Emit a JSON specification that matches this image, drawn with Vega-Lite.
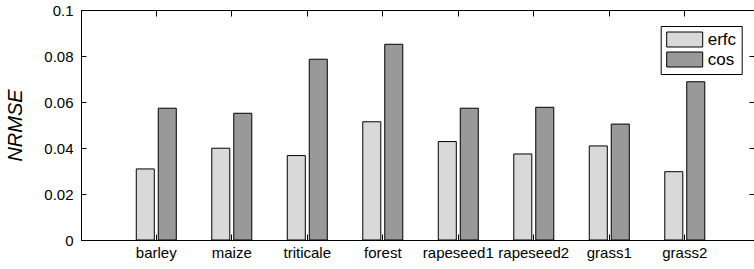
{
  "$schema": "https://vega.github.io/schema/vega-lite/v6.json",
  "width": 673,
  "height": 230,
  "autosize": {"type": "none"},
  "padding": {"left": 81, "top": 10, "right": 0, "bottom": 29},
  "background": "white",
  "config": {
    "font": "Liberation Sans",
    "view": {"stroke": "black", "strokeWidth": 1},
    "axis": {"grid": false, "domainColor": "black", "domainWidth": 1, "tickColor": "black", "tickWidth": 1, "labelColor": "black", "titleColor": "black", "labelFontSize": 15, "labelFont": "Liberation Sans"}
  },
  "data": {
    "values": [
      {"crop": "barley", "method": "erfc", "value": 0.0309},
      {"crop": "barley", "method": "cos", "value": 0.0573},
      {"crop": "maize", "method": "erfc", "value": 0.0399},
      {"crop": "maize", "method": "cos", "value": 0.0551},
      {"crop": "triticale", "method": "erfc", "value": 0.0367},
      {"crop": "triticale", "method": "cos", "value": 0.0786},
      {"crop": "forest", "method": "erfc", "value": 0.0514},
      {"crop": "forest", "method": "cos", "value": 0.0851},
      {"crop": "rapeseed1", "method": "erfc", "value": 0.0428},
      {"crop": "rapeseed1", "method": "cos", "value": 0.0573},
      {"crop": "rapeseed2", "method": "erfc", "value": 0.0374},
      {"crop": "rapeseed2", "method": "cos", "value": 0.0577},
      {"crop": "grass1", "method": "erfc", "value": 0.0409},
      {"crop": "grass1", "method": "cos", "value": 0.0504},
      {"crop": "grass2", "method": "erfc", "value": 0.0297},
      {"crop": "grass2", "method": "cos", "value": 0.0688}
    ]
  },
  "layer": [
    {
      "mark": {"type": "bar", "stroke": "black", "strokeWidth": 1},
      "encoding": {
        "x": {
          "field": "crop", "type": "nominal",
          "sort": ["barley", "maize", "triticale", "forest", "rapeseed1", "rapeseed2", "grass1", "grass2"],
          "scale": {"paddingInner": 0.47, "paddingOuter": 0.692, "align": 0.529},
          "axis": {"orient": "bottom", "title": null, "labelAngle": 0, "tickSize": -6, "labelPadding": 11, "zindex": 1}
        },
        "xOffset": {"field": "method", "type": "nominal", "sort": ["erfc", "cos"], "scale": {"paddingInner": 0.18, "paddingOuter": 0}},
        "y": {
          "field": "value", "type": "quantitative",
          "scale": {"domain": [0, 0.1], "nice": false},
          "axis": {"orient": "left", "values": [0, 0.02, 0.04, 0.06, 0.08, 0.1], "format": "~g", "tickSize": -5, "labelPadding": 13, "zindex": 1,
                   "title": "NRMSE", "titleFontSize": 20, "titleFontStyle": "italic", "titleFontWeight": "normal", "titleFont": "Liberation Sans",
                   "titleAngle": -90, "titleX": -60, "titleY": 115, "titleAlign": "center", "titleBaseline": "alphabetic"}
        },
        "color": {
          "field": "method", "type": "nominal",
          "scale": {"domain": ["erfc", "cos"], "range": ["#d9d9d9", "#999999"]},
          "legend": {"orient": "none", "legendX": 579.7, "legendY": 16, "title": null, "strokeColor": "black", "fillColor": "white", "padding": 5,
                     "symbolType": "M-2.4,-1H2.4V1H-2.4Z", "symbolSize": 225, "symbolStrokeColor": "black", "symbolStrokeWidth": 1, "symbolOpacity": 1,
                     "labelFontSize": 17, "labelFont": "Liberation Sans", "labelColor": "black", "labelOffset": 14.5, "symbolOffset": 10.5, "rowPadding": 1}
        }
      }
    },
    {
      "mark": {"type": "bar", "opacity": 0},
      "encoding": {
        "x": {
          "field": "crop", "type": "nominal",
          "sort": ["barley", "maize", "triticale", "forest", "rapeseed1", "rapeseed2", "grass1", "grass2"],
          "axis": {"orient": "top", "title": null, "labels": false, "tickSize": -6, "zindex": 1}
        },
        "xOffset": {"field": "method", "type": "nominal", "sort": ["erfc", "cos"]},
        "y": {
          "field": "value", "type": "quantitative",
          "axis": {"orient": "right", "title": null, "labels": false, "values": [0, 0.02, 0.04, 0.06, 0.08, 0.1], "tickSize": -5, "zindex": 1}
        }
      }
    }
  ]
}
